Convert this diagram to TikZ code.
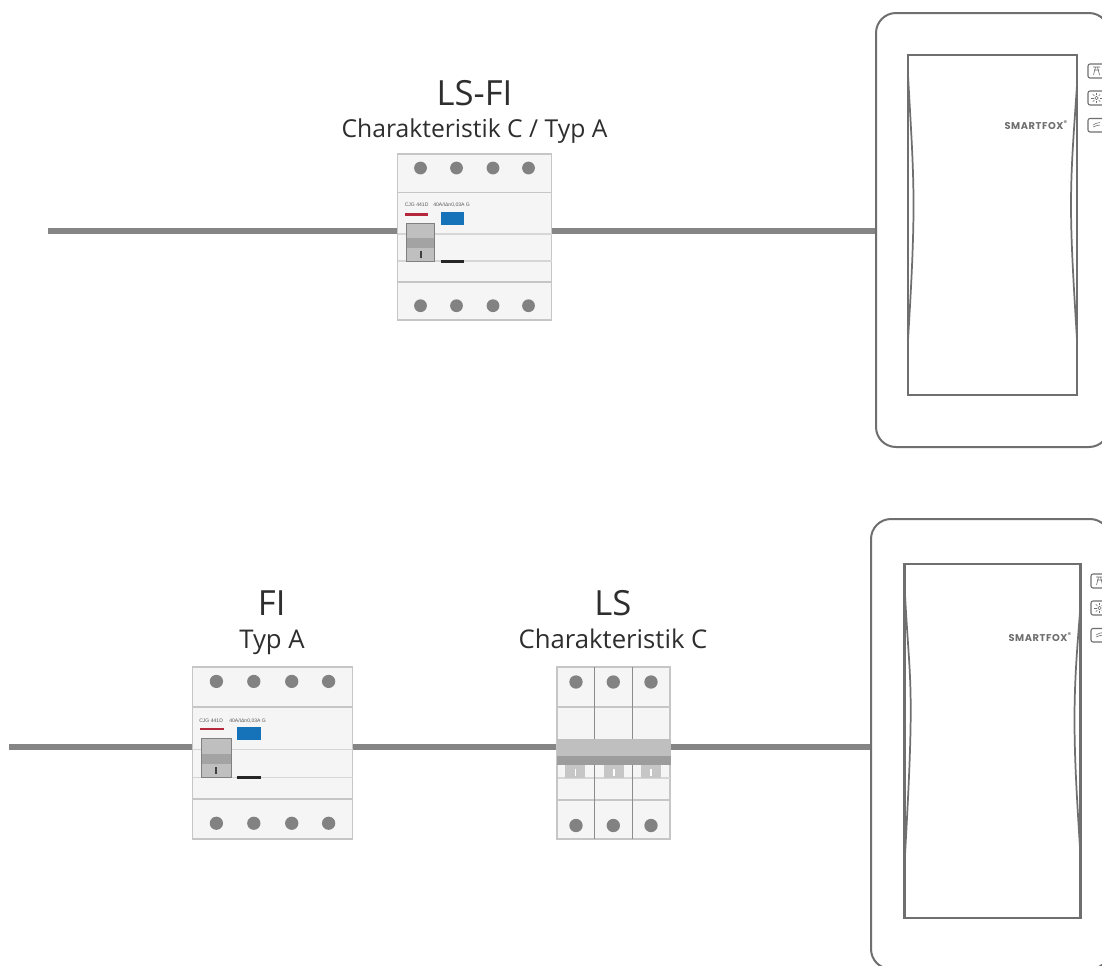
\documentclass[tikz,border=0pt]{standalone}
\usepackage{fontspec}
\setmainfont{Open Sans}
\newfontfamily\brandfont[LetterSpace=6]{Poppins}
\newfontfamily\tinyfont{Liberation Sans}
\definecolor{wire}{HTML}{858585}
\definecolor{edge}{HTML}{6F6F6F}
\definecolor{boxedge}{HTML}{C6C6C6}
\definecolor{boxfill}{HTML}{F5F5F5}
\definecolor{sepline}{HTML}{D6D6D6}
\definecolor{terminal}{HTML}{828282}
\definecolor{labeltext}{HTML}{2E2E2E}
\definecolor{rcdred}{HTML}{B5283C}
\definecolor{rcdblue}{HTML}{1673BA}
\tikzset{
  x=0.75pt,y=-0.75pt,
  wireline/.style={draw=wire,line width=4pt},
  housing/.style={draw=edge,line width=1.5pt,fill=white,rounded corners=15pt,inner sep=0pt},
  panel/.style={draw=edge,line width=1.8pt},
  swoosh/.style={draw=edge,line width=1.3pt},
  keycap/.style={draw=edge,line width=0.8pt,rounded corners=1.5pt,fill=white},
  keyicon/.style={draw=edge,line width=0.45pt},
  brand/.style={text=edge,font=\brandfont\bfseries\fontsize{7.4}{8}\selectfont,inner sep=0pt},
  breaker/.style={draw=boxedge,line width=0.9pt,fill=boxfill,inner sep=0pt},
  sep/.style={draw=sepline,line width=0.9pt},
  sepdark/.style={draw=boxedge,line width=1pt},
  screw/.style={fill=terminal},
  bigtitle/.style={text=labeltext,font=\fontsize{26}{28}\selectfont,inner sep=0pt,anchor=base},
  subtitle/.style={text=labeltext,font=\fontsize{18.5}{20}\selectfont,inner sep=0pt,anchor=base},
  subtitlewide/.style={subtitle,font=\fontsize{19.3}{20}\selectfont},
  tinylabel/.style={text=black!65,font=\tinyfont\fontsize{3.8}{4}\selectfont,inner sep=0pt,anchor=west},
}
% RCD internals in the local frame of the upper device (154 x 166)
\newcommand{\rcdparts}{%
  \draw[sepdark] (0,38.7) -- (154,38.7);
  \draw[sep] (0,80) -- (154,80);
  \draw[sep] (0,107) -- (154,107);
  \draw[sepdark] (0,128) -- (154,128);
  \foreach \xx in {23,59,95.5,131}{
    \fill[screw] (\xx,14) circle (4.8pt);
    \fill[screw] (\xx,151.7) circle (4.8pt);
  }
  \fill[rcdred] (7.5,59) rectangle (30.5,61.5);
  \fill[rcdblue] (43,58) rectangle (66,71);
  \fill[gray!50] (8.5,69) rectangle (37,107.5);
  \fill[gray!72] (8.5,84) rectangle (37,94);
  \draw[gray,line width=0.6pt] (8.5,69) rectangle (37,107.5);
  \fill[black!75] (22,97) rectangle (24,104);
  \fill[black!85] (43,105.5) rectangle (66,109);
}
% Smartfox keys: #1 = left x, #2 = first top y
\newcommand{\smartkeys}[2]{%
  \draw[keycap] (#1,#2) rectangle +(20,14);
  \draw[keycap] (#1,#2+27) rectangle +(20,14);
  \draw[keycap] (#1,#2+54.5) rectangle +(20,13.5);
  % pylon
  \draw[keyicon] (#1+5,#2+3) -- (#1+12,#2+3) (#1+6,#2+6) -- (#1+11,#2+6)
    (#1+7.5,#2+3) -- (#1+5.5,#2+11) (#1+9.5,#2+3) -- (#1+11.5,#2+11);
  % sun
  \draw[keyicon] (#1+8.5,#2+34) circle (1.3pt);
  \foreach \a in {0,45,...,315}{
    \draw[keyicon] ([shift={(\a:3)}]#1+8.5,#2+34) -- ([shift={(\a:5.2)}]#1+8.5,#2+34);
  }
  % vent
  \draw[keyicon] (#1+5,#2+61) .. controls (#1+7,#2+58.5) and (#1+9,#2+60) .. (#1+12,#2+58.5);
  \draw[keyicon] (#1+5,#2+63) .. controls (#1+7,#2+60.5) and (#1+9,#2+63) .. (#1+12,#2+61);
}
\begin{document}
\begin{tikzpicture}
\clip (0,0) rectangle (1102,965);
\fill[white] (0,0) rectangle (1102,965);

% ---------- upper row ----------
\coordinate (feedA) at (48,231);
\node[housing,minimum width=174.75pt,minimum height=325.5pt] (devA) at (992.5,230) {};
\node[breaker,minimum width=115.5pt,minimum height=124.5pt] (rcdA) at (474.5,237) {};
\draw[wireline] (feedA) -- (feedA -| rcdA.west);
\draw[wireline] (feedA -| rcdA.east) -- (feedA -| devA.west);
\begin{scope}[shift={(397.5,154)}]
  \rcdparts
\end{scope}
\node[tinylabel] (cjgA) at (404.5,205) {CJG 441D};
\node[tinylabel] (ratA) at (433,205) {40A/IΔn0,03A G};
\node[bigtitle] (tA) at (474.5,105) {LS-FI};
\node[subtitle] (sA) at (474.5,137) {Charakteristik C / Typ A};

\node[panel,minimum width=126.5pt,minimum height=255pt,inner sep=0pt] (panA) at (992.5,225) {};
\draw[swoosh] (908,75) .. controls (911,130) and (913.5,165) .. (913.5,205) .. controls (913.5,245) and (911,290) .. (908,340);
\draw[swoosh] (1077,85) .. controls (1074,130) and (1071,165) .. (1071,205) .. controls (1071,245) and (1074,290) .. (1077,340);
\node[brand,anchor=east] (brA) at (1068,125) {SMARTFOX\textsuperscript{®}};
\smartkeys{1088}{64}

% ---------- lower row ----------
\coordinate (feedB) at (9,747);
\node[housing,minimum width=179.25pt,minimum height=337.5pt] (devB) at (990.5,744) {};
\node[breaker,minimum width=120pt,minimum height=129pt] (rcdB) at (272.5,753) {};
\node[breaker,minimum width=84.75pt,minimum height=129pt] (mcbB) at (613.5,753) {};
\draw[wireline] (feedB) -- (feedB -| rcdB.west);
\draw[wireline] (feedB -| rcdB.east) -- (feedB -| mcbB.west);
\draw[wireline] (feedB -| mcbB.east) -- (feedB -| devB.west);
\begin{scope}[shift={(192.5,667)},xscale=1.039,yscale=1.03]
  \rcdparts
\end{scope}
\node[tinylabel] (cjgB) at (199,720.5) {CJG 441D};
\node[tinylabel] (ratB) at (229,720.5) {40A/IΔn0,03A G};
\node[bigtitle] (tB) at (271.7,615) {FI};
\node[subtitlewide] (sB) at (272,648.3) {Typ A};
\node[bigtitle] (tC) at (613,615) {LS};
\node[subtitlewide] (sC) at (613,648.3) {Charakteristik C};

% miniature breaker internals
\draw[sepdark] (557.5,707) -- (670,707);
\draw[sep] (557.5,778) -- (670,778);
\draw[sepdark] (557.5,800) -- (670,800);
\fill[gray!50] (557,739) rectangle (670.5,756);
\fill[gray!78] (557,756) rectangle (670.5,765);
\foreach \xx in {565.3,603.5,641}{
  \fill[gray!45] (\xx,765) rectangle (\xx+20,778);
  \fill[white] (\xx+9.3,769) rectangle (\xx+11,776);
}
\draw[gray!90,line width=0.9pt] (594.3,667) -- (594.3,739) (594.3,765) -- (594.3,839);
\draw[gray!90,line width=0.9pt] (632.3,667) -- (632.3,739) (632.3,765) -- (632.3,839);
\foreach \xx in {576,613.3,651}{
  \fill[screw] (\xx,682) circle (5pt);
  \fill[screw] (\xx,825.5) circle (5pt);
}

\node[panel,minimum width=131.75pt,minimum height=265.5pt,inner sep=0pt] (panB) at (992.5,741) {};
\draw[swoosh] (905,595) .. controls (908,650) and (910.7,670) .. (910.7,710) .. controls (910.7,750) and (908,800) .. (905,855);
\draw[swoosh] (1080,612) .. controls (1077,650) and (1074.5,680) .. (1074.5,720) .. controls (1074.5,760) and (1077,800) .. (1080,848);
\node[brand,anchor=east] (brB) at (1072,637) {SMARTFOX\textsuperscript{®}};
\smartkeys{1091}{574}
\end{tikzpicture}
\end{document}
